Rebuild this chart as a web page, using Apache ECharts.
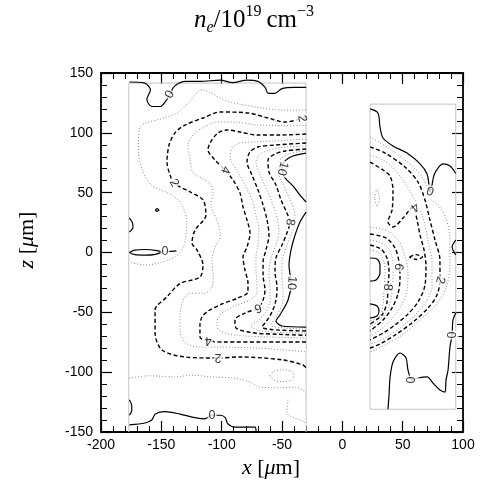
<!DOCTYPE html>
<html><head><meta charset="utf-8">
<script src="https://cdn.jsdelivr.net/npm/echarts@6/dist/echarts.min.js"></script>
<style>html,body{margin:0;padding:0;background:#fff}#c{width:490px;height:488px}</style>
</head><body><div id="c"></div>
<script>
// ---- axes ----
const xRange = [-200, 100];
const zRange = [-150, 150];
const tickStep = 50;

// ---- panel frames (grey) ----
const leftPanel = [[-177,-150],[-177,141.6],[-30,141.6],[-30,-150]];
const rightPanel = [[23,-131],[23,124],[94,124],[94,-131],[23,-131]];

// ---- left panel contours (x, z in µm) ----
const c0TopL = [[-176.5,142.5],[-164,141.6],[-159,136],[-162,128],[-158,122],[-151,122],[-146,127],[-143,132],[-139,139],[-130,143],[-118,143],[-101,144],[-91,142],[-79,144],[-70,143],[-64,138],[-61.5,133],[-56,133],[-50,137],[-40,138],[-30,138]];
const c0BotL = [[-176.5,-144],[-163.5,-142.5],[-158,-140],[-155,-135],[-147,-133],[-134.5,-135],[-122,-138],[-114,-139],[-108,-136],[-101,-136],[-97,-138],[-95,-143],[-89,-146],[-72.5,-146],[-71.5,-150]];
const c0LoopL = [[-176.5,0],[-172,2],[-163,2.5],[-155,1.8],[-150,0.5],[-155,-1.5],[-163,-2.2],[-172,-1.8],[-176.5,0]];
const c0TailL = [[-144.5,0.8],[-137.5,1.3]];
const c0DotL = [[-155,35.5],[-153.6,36.6],[-152,35.5],[-153.6,34.4],[-155,35.5]];
const c0ArcL1 = [[-176.5,29],[-174,25],[-173.5,21],[-176.5,17]];
const c0ArcL2 = [[-176.5,-123],[-174.5,-128],[-174.5,-132],[-176.5,-136]];
const c1TopL = [[-30,119],[-50,119],[-68,121],[-85,124],[-97,127],[-108,133],[-116,136],[-126,127],[-136,117],[-149,112],[-163.5,108],[-168,104],[-169,84],[-165,67],[-158,56],[-141,48],[-133,40],[-129,25.5],[-130,12],[-132,4],[-139,-4],[-153,-9],[-163.5,-10.5],[-176.5,-8]];
const c1BotL = [[-176.5,-105],[-160,-103],[-139,-104],[-125,-102.5],[-108,-104],[-89,-105],[-75,-109],[-69,-112.5],[-50,-113],[-39,-112.5],[-30,-117]];
const c1LoopL = [[-60,-103],[-57,-99.5],[-50,-98],[-42,-99.5],[-40,-103],[-42,-106.5],[-50,-108],[-57,-106.5],[-60,-103]];
const c1CornerL = [[-45,-123],[-46,-134],[-33,-141],[-30,-143]];
const c2L = [[-30,113],[-47.5,109],[-61.6,112.4],[-78,116.6],[-101.4,117.4],[-115.5,112.4],[-130.4,106.5],[-138.7,100],[-143.6,89.8],[-145.3,75.6],[-142.8,64.8],[-139.5,58],[-126.2,50.6],[-115.5,44],[-113,31.3],[-122,18.8],[-124.6,8],[-120.4,2],[-115.5,-10.5],[-118,-20.5],[-134.5,-26],[-145.3,-37],[-155.2,-48],[-155.2,-67],[-149.4,-81.5],[-130.4,-87.3],[-103,-88.2],[-84.8,-87.3],[-49.2,-89.8],[-32.6,-94],[-30,-96.5]];
const c3L = [[-30,106],[-70,106.5],[-89,109],[-104,109],[-114,105],[-122,100],[-128,90],[-126,77],[-124,67],[-118,63],[-110,58],[-107,50.6],[-109,39.7],[-104,27],[-101,14.6],[-105.5,4],[-108,-6],[-107,-19],[-108,-29],[-114,-34],[-126,-34],[-132,-40],[-134.5,-52],[-134.5,-65],[-130.4,-75],[-119.6,-79],[-103,-79],[-68,-80],[-30,-83]];
const c4L = [[-30,99],[-51.7,98.2],[-70.7,98.2],[-84.8,100.7],[-95.6,102.4],[-103,99.9],[-109.7,91.5],[-111.3,85.7],[-105.5,77.3],[-97.2,68.9],[-90.6,60.6],[-84.8,49.7],[-82.3,38],[-79,27.2],[-76.5,16.3],[-79,4.6],[-82.3,-3.8],[-80.7,-14.6],[-78.2,-25.5],[-78.2,-33],[-86.5,-38],[-99.7,-43],[-111.3,-48.9],[-116.3,-53.9],[-118,-60.6],[-118,-70.6],[-109.7,-74],[-97.2,-74.8],[-68.2,-74.8],[-30,-74.8]];
const c5L = [[-30,94.8],[-55.8,93.2],[-72.4,92.3],[-84.8,91.5],[-91.4,87.3],[-93.1,79.8],[-87.3,68.9],[-80.7,56.4],[-74.9,43.9],[-71.6,31.3],[-69.1,18.8],[-69.9,6.3],[-71.6,-4.6],[-71.6,-14.6],[-70.7,-25.5],[-70.7,-33],[-76.5,-39.7],[-87.3,-43.9],[-99.7,-50.6],[-103.9,-58.1],[-102.2,-64.8],[-89,-69],[-60,-70.6],[-30,-71.5]];
const c6L = [[-30,91.5],[-55.8,89.8],[-69.9,88.2],[-76.5,84],[-79,75.6],[-74.9,64.8],[-69.9,52.2],[-65.7,39.7],[-62.4,27.2],[-60.8,14.6],[-63.3,2.1],[-65.7,-7.9],[-65.7,-18.8],[-64.1,-31.3],[-65.7,-39.7],[-69.9,-46.4],[-80.7,-50.6],[-89,-56.4],[-88.1,-63.1],[-74.9,-67],[-51.7,-68.4],[-30,-69.2]];
const c7L = [[-30,89],[-53.3,87.3],[-66.6,83.1],[-71.6,75.6],[-68.2,64.8],[-62.4,52.2],[-57.5,39.7],[-54.1,28.8],[-52.5,18.8],[-55,6.3],[-59.1,-4.6],[-60.8,-16.3],[-60,-28.8],[-60,-39.7],[-63.3,-49.7],[-69.1,-56.4],[-75.7,-61.5],[-68,-65.6],[-30,-67.5]];
const c8L = [[-30,86.5],[-47.5,84.8],[-55.8,82.3],[-61.6,77.3],[-60.8,67.3],[-55,56.4],[-50.8,43.9],[-45.9,33],[-43.4,25.5],[-45.9,16.3],[-50,6.3],[-55,-4.6],[-55.8,-16.3],[-54.1,-28.8],[-55,-39.7],[-58.3,-49.7],[-63.3,-58.1],[-66.6,-62.3],[-58.3,-64.4],[-30,-65.6]];
const c9L = [[-30,84.8],[-41.7,83.1],[-50,79],[-54.1,70.6],[-50.8,60.6],[-45,48],[-40,35.5],[-39.2,25.5],[-42.5,14.6],[-46.7,3.8],[-50,-7.9],[-50,-21.3],[-49.2,-33],[-50,-43.9],[-54.1,-52.2],[-59.1,-60.6],[-47.5,-63.1],[-30,-64]];
const c10AL = [[-30,83.1],[-40.9,80.6],[-48.3,75.6],[-50,68.9],[-47.5,62.3],[-40.9,55.6],[-35.1,48],[-30,42.2]];
const c10BL = [[-30,33.8],[-35.1,25.5],[-39.2,14.6],[-42.5,2.1],[-44.2,-10.5],[-42.5,-25.5],[-45,-39.7],[-51.7,-52.2],[-55,-57.2],[-50,-61.4],[-30,-62.3]];

// ---- right panel contours ----
const c0TopR = [[23,120],[29.5,116.6],[31.2,104.9],[33.7,95.7],[42,89],[53.6,83.1],[64.4,74],[70.2,65.6],[71.8,56.4],[72.6,50.6],[74.3,56.4],[76,64.8],[79.3,70.6],[83.4,74],[89.2,72.3],[94,66]];
const c0BotR = [[37.8,-131],[38.7,-119.1],[39.5,-104.9],[42,-91.5],[47.8,-84],[52.8,-88.2],[54.4,-98.2],[57.7,-106.6],[62.7,-104.9],[70.2,-104],[75.1,-109.1],[80.9,-114.9],[85.1,-116.6],[85.9,-106.6],[87.6,-98.2],[89.2,-79],[90.9,-69],[91.7,-56.4],[94,-50.6]];
const c0EdgeR = [[94,10.4],[91,4.6],[94,-2]];
const c1R = [[23,96.5],[39.5,86.5],[57.7,72.3],[67.7,60.6],[72.6,45.5],[79.3,39.7],[85.9,28.8],[89.2,10.4],[89.2,-10.5],[85.9,-29.7],[77.6,-43.9],[64.4,-56.4],[49.4,-69],[35.4,-77.3],[23,-83.2]];
const c2R = [[23,88.2],[35.4,83.1],[51.9,71.4],[62.7,58.9],[68.5,43.9],[72.6,27.2],[76.8,10.4],[80.9,-6.3],[80.9,-23],[78.4,-35.5],[71,-46.4],[58.6,-58.1],[43.6,-69],[31.2,-76.5],[23,-79.8]];
const c3R = [[23,81.5],[33.7,77.3],[43.6,68.9],[51.9,58.1],[60.2,43.9],[66.8,29.7],[71,10.4],[74.3,-8.8],[74.3,-28.8],[68.5,-42.2],[58.6,-53.9],[47.8,-63.1],[35.4,-71.5],[23,-76.5]];
const c4R = [[23,75.6],[33.7,68.9],[39.5,63.9],[42,52.2],[41.2,35.5],[37.8,25.5],[42,21.3],[50.3,28.8],[58.6,38],[61.9,27.2],[64.4,14.6],[67.7,2.1],[69.3,-10.5],[68.5,-27.2],[62.7,-41.4],[53.6,-52.2],[43.6,-60.6],[33.7,-67.3],[23,-73.1]];
const c4LoopR = [[55.6,-3.8],[61,-1.8],[66.4,-3.8],[61,-5.8],[55.6,-3.8]];
const c5LoopR = [[26.7,45.5],[28.7,52.5],[30.7,45.5],[28.7,38.5],[26.7,45.5]];
const c5R = [[23,21.3],[37.8,18],[46.9,9.6],[51.9,-2.9],[54.4,-16.3],[53.6,-31.3],[48.6,-44.7],[40.3,-56.4],[31.2,-64.8],[23,-69.8]];
const c6R = [[23,15.5],[36.2,12.1],[43.6,3.8],[47,-7.9],[47.8,-21.3],[46.1,-34.7],[41.2,-46.4],[33.7,-56.4],[23,-65.6]];
const c7R = [[23,10.4],[34.5,7.1],[40.3,-0.4],[42,-12.1],[42,-25.5],[40.3,-38],[37,-48.9],[31.2,-56.4],[23,-62.3]];
const c8R = [[23,6.3],[32,2.9],[37,-4.6],[38.7,-16.3],[37.8,-28.8],[37,-41.4],[32.9,-52.2],[23,-59.8]];
const c9R = [[23,2.1],[30.4,-0.4],[34.5,-7.9],[35.4,-18.8],[34.5,-31.3],[33.7,-43.9],[31.2,-53.1],[23,-57.3]];
const c10AR = [[23,-4.6],[28.7,-5.4],[31.2,-10.5],[31.2,-17.1],[27.9,-23],[23,-23.8]];
const c10BR = [[23,-43],[28.7,-44.7],[30.4,-48.9],[28.7,-53.1],[23,-54.7]];

// ---- contour labels ----
const labelText = ['0','0','0','2','4','10','8','2','10','6','4','2','0','4','6','8','2','0','0'];
const labelX = [-143,-147,-108,-139.5,-97,-49.5,-43.4,-33.5,-42,-70,-111,-103,72.6,60,46.5,37.5,81,57.7,91];
const labelZ = [132,0.5,-136,58,69,70,25.5,112,-25.5,-46.4,-73.5,-87.5,50.6,38,-12,-29,-23,-106.6,-69];
const labelRot = [60,0,0,-60,-110,-105,-100,-80,-95,-160,180,180,-20,-140,-100,-95,-105,90,90];

// level of each contour
const contours = [
  [0,c0TopL],[0,c0BotL],[0,c0LoopL],[0,c0TailL],[0,c0DotL],[0,c0ArcL1],[0,c0ArcL2],
  [1,c1TopL],[1,c1BotL],[1,c1LoopL],[1,c1CornerL],
  [2,c2L],[3,c3L],[4,c4L],[5,c5L],[6,c6L],[7,c7L],[8,c8L],[9,c9L],[10,c10AL],[10,c10BL],
  [0,c0TopR],[0,c0BotR],[0,c0EdgeR],
  [1,c1R],[2,c2R],[3,c3R],[4,c4R],[4,c4LoopR],[5,c5LoopR],[5,c5R],[6,c6R],[7,c7R],[8,c8R],[9,c9R],[10,c10AR],[10,c10BR]
];

function styleFor(level){
  if (level === 0 || level === 10) return {color:'#000', width:1.2, type:'solid'};
  if (level % 2 === 0) return {color:'#000', width:1.4, type:[4,2.5]};
  return {color:'#8c8c8c', width:1, type:[1,2]};
}

const series = [];
[leftPanel, rightPanel].forEach(p => series.push({
  type:'line', data:p, showSymbol:false, symbol:'none', silent:true,
  lineStyle:{color:'#c4c4c4', width:1}, z:1
}));
contours.forEach(([lv, d]) => series.push({
  type:'line', data:d, showSymbol:false, symbol:'none', silent:true, smooth:0.3,
  lineStyle:styleFor(lv), z:2
}));
series.push({
  type:'scatter', symbol:'circle', symbolSize:0, silent:true, z:5,
  itemStyle:{color:'transparent'},
  label:{show:true, position:'inside', color:'#000', fontSize:12.5, fontFamily:'Liberation Sans',
    backgroundColor:'#fff', padding:[0,1]},
  data: labelText.map((t,i)=>({
    value:[labelX[i], labelZ[i]],
    label:{show:true, formatter:t, rotate:labelRot[i]}
  }))
});

const axisBase = {
  type:'value', splitLine:{show:false},
  axisLine:{show:true, onZero:false, lineStyle:{color:'#000', width:1.8}},
  axisTick:{show:true, inside:true, length:11, lineStyle:{color:'#000', width:1.2}},
  minorTick:{show:true, splitNumber:5, length:6, lineStyle:{color:'#000', width:1}}
};
const lab = {color:'#000', fontSize:14, fontFamily:'Liberation Sans'};

const serif = 'Liberation Serif';
const richMath = {
  i:{fontFamily:serif, fontStyle:'italic', fontSize:22, lineHeight:30, color:'#000'},
  r:{fontFamily:serif, fontSize:22, lineHeight:30, color:'#000'},
  sup:{fontFamily:serif, fontSize:14, lineHeight:19, verticalAlign:'top', color:'#000'},
  sub:{fontFamily:serif, fontStyle:'italic', fontSize:14, lineHeight:19, verticalAlign:'bottom', color:'#000'}
};
const richTitle = {
  i:{fontFamily:serif, fontStyle:'italic', fontSize:25, lineHeight:32, color:'#000'},
  r:{fontFamily:serif, fontSize:25, lineHeight:32, color:'#000'},
  sup:{fontFamily:serif, fontSize:16, lineHeight:20, verticalAlign:'top', color:'#000'},
  sub:{fontFamily:serif, fontStyle:'italic', fontSize:16, lineHeight:20, verticalAlign:'bottom', color:'#000'}
};

const chart = echarts.init(document.getElementById('c'), null, {renderer:'canvas'});
chart.setOption({
  animation:false,
  backgroundColor:'#fff',
  grid:{left:101, right:27, top:73, bottom:56, containLabel:false},
  xAxis:[
    Object.assign({}, axisBase, {min:xRange[0], max:xRange[1], interval:tickStep, position:'bottom', axisLabel:Object.assign({margin:6}, lab)}),
    Object.assign({}, axisBase, {min:xRange[0], max:xRange[1], interval:tickStep, position:'top', axisLabel:{show:false}})
  ],
  yAxis:[
    Object.assign({}, axisBase, {min:zRange[0], max:zRange[1], interval:tickStep, position:'left', axisLabel:Object.assign({margin:8}, lab)}),
    Object.assign({}, axisBase, {min:zRange[0], max:zRange[1], interval:tickStep, position:'right', axisLabel:{show:false}})
  ],
  graphic:[
    {type:'text', x:254, y:20, style:{text:'{i|n}{sub|e}{r|/10}{sup|19}{r|\u2009cm}{sup|\u22123}', rich:richTitle, align:'center', verticalAlign:'middle'}},
    {type:'text', x:271, y:468, style:{text:'{i|x}{r| [}{i|\u03bc}{r|m]}', rich:richMath, align:'center', verticalAlign:'middle'}},
    {type:'text', x:27, y:240, rotation:Math.PI/2, style:{text:'{i|z}{r| [}{i|\u03bc}{r|m]}', rich:richMath, align:'center', verticalAlign:'middle'}}
  ],
  series
});
</script>
</body></html>
